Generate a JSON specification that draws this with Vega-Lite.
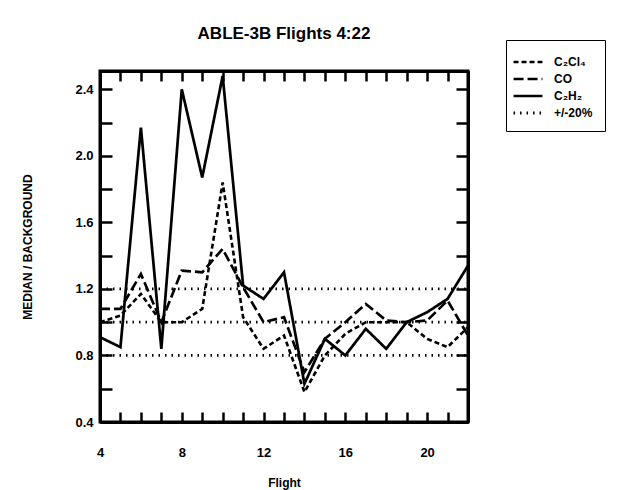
{
  "$schema": "https://vega.github.io/schema/vega-lite/v6.json",
  "width": 368,
  "height": 351,
  "autosize": {"type": "none"},
  "padding": {"left": 100, "top": 71, "right": 153, "bottom": 68},
  "background": "white",
  "title": {"text": "ABLE-3B Flights 4:22", "fontSize": 17, "font": "Liberation Sans", "fontWeight": "bold", "color": "black", "anchor": "middle", "offset": -3},
  "config": {
    "view": {"stroke": "black", "strokeWidth": 3},
    "axis": {"labelFont": "Liberation Sans", "labelFontWeight": "bold", "labelFontSize": 13, "labelColor": "black", "titleFont": "Liberation Sans", "titleFontWeight": "bold", "titleFontSize": 12, "titleColor": "black", "domainColor": "black", "domainWidth": 3, "tickColor": "black", "tickWidth": 2.5, "grid": false},
    "legend": {"labelFont": "Liberation Sans", "labelFontWeight": "bold", "labelFontSize": 12, "labelColor": "black"}
  },
  "data": {"values": [
    {"flight": 4, "value": 1.00, "series": "C₂Cl₄"},
    {"flight": 5, "value": 1.04, "series": "C₂Cl₄"},
    {"flight": 6, "value": 1.17, "series": "C₂Cl₄"},
    {"flight": 7, "value": 1.00, "series": "C₂Cl₄"},
    {"flight": 8, "value": 1.00, "series": "C₂Cl₄"},
    {"flight": 9, "value": 1.08, "series": "C₂Cl₄"},
    {"flight": 10, "value": 1.84, "series": "C₂Cl₄"},
    {"flight": 11, "value": 1.03, "series": "C₂Cl₄"},
    {"flight": 12, "value": 0.84, "series": "C₂Cl₄"},
    {"flight": 13, "value": 0.92, "series": "C₂Cl₄"},
    {"flight": 14, "value": 0.58, "series": "C₂Cl₄"},
    {"flight": 15, "value": 0.80, "series": "C₂Cl₄"},
    {"flight": 16, "value": 0.93, "series": "C₂Cl₄"},
    {"flight": 17, "value": 1.00, "series": "C₂Cl₄"},
    {"flight": 18, "value": 1.00, "series": "C₂Cl₄"},
    {"flight": 19, "value": 1.00, "series": "C₂Cl₄"},
    {"flight": 20, "value": 0.90, "series": "C₂Cl₄"},
    {"flight": 21, "value": 0.85, "series": "C₂Cl₄"},
    {"flight": 22, "value": 0.97, "series": "C₂Cl₄"},
    {"flight": 4, "value": 1.08, "series": "CO"},
    {"flight": 5, "value": 1.08, "series": "CO"},
    {"flight": 6, "value": 1.29, "series": "CO"},
    {"flight": 7, "value": 1.00, "series": "CO"},
    {"flight": 8, "value": 1.31, "series": "CO"},
    {"flight": 9, "value": 1.30, "series": "CO"},
    {"flight": 10, "value": 1.44, "series": "CO"},
    {"flight": 11, "value": 1.21, "series": "CO"},
    {"flight": 12, "value": 1.00, "series": "CO"},
    {"flight": 13, "value": 1.03, "series": "CO"},
    {"flight": 14, "value": 0.70, "series": "CO"},
    {"flight": 15, "value": 0.90, "series": "CO"},
    {"flight": 16, "value": 1.00, "series": "CO"},
    {"flight": 17, "value": 1.11, "series": "CO"},
    {"flight": 18, "value": 1.01, "series": "CO"},
    {"flight": 19, "value": 1.00, "series": "CO"},
    {"flight": 20, "value": 1.01, "series": "CO"},
    {"flight": 21, "value": 1.13, "series": "CO"},
    {"flight": 22, "value": 0.92, "series": "CO"},
    {"flight": 4, "value": 0.91, "series": "C₂H₂"},
    {"flight": 5, "value": 0.85, "series": "C₂H₂"},
    {"flight": 6, "value": 2.17, "series": "C₂H₂"},
    {"flight": 7, "value": 0.84, "series": "C₂H₂"},
    {"flight": 8, "value": 2.40, "series": "C₂H₂"},
    {"flight": 9, "value": 1.87, "series": "C₂H₂"},
    {"flight": 10, "value": 2.48, "series": "C₂H₂"},
    {"flight": 11, "value": 1.22, "series": "C₂H₂"},
    {"flight": 12, "value": 1.14, "series": "C₂H₂"},
    {"flight": 13, "value": 1.30, "series": "C₂H₂"},
    {"flight": 14, "value": 0.63, "series": "C₂H₂"},
    {"flight": 15, "value": 0.90, "series": "C₂H₂"},
    {"flight": 16, "value": 0.80, "series": "C₂H₂"},
    {"flight": 17, "value": 0.96, "series": "C₂H₂"},
    {"flight": 18, "value": 0.84, "series": "C₂H₂"},
    {"flight": 19, "value": 1.00, "series": "C₂H₂"},
    {"flight": 20, "value": 1.06, "series": "C₂H₂"},
    {"flight": 21, "value": 1.14, "series": "C₂H₂"},
    {"flight": 22, "value": 1.34, "series": "C₂H₂"},
    {"flight": 4, "value": 0.8, "series": "+/-20%", "level": "low"},
    {"flight": 22, "value": 0.8, "series": "+/-20%", "level": "low"},
    {"flight": 4, "value": 1.0, "series": "+/-20%", "level": "mid"},
    {"flight": 22, "value": 1.0, "series": "+/-20%", "level": "mid"},
    {"flight": 4, "value": 1.2, "series": "+/-20%", "level": "high"},
    {"flight": 22, "value": 1.2, "series": "+/-20%", "level": "high"}
  ]},
  "layer": [
    {
      "mark": {"type": "line", "color": "black", "clip": true},
      "encoding": {
        "x": {"field": "flight", "type": "quantitative", "scale": {"domain": [4, 22], "nice": false, "zero": false},
              "axis": {"orient": "bottom", "title": "Flight", "values": [4,5,6,7,8,9,10,11,12,13,14,15,16,17,18,19,20,21,22],
                       "labelExpr": "datum.value % 4 == 0 ? datum.label : ''", "tickSize": -10, "labelPadding": 34, "titlePadding": 18, "labelFlush": false}},
        "y": {"field": "value", "type": "quantitative", "scale": {"domain": [0.4, 2.51], "nice": false, "zero": false},
              "axis": {"orient": "left", "title": "MEDIAN / BACKGROUND", "values": [0.4,0.6,0.8,1.0,1.2,1.4,1.6,1.8,2.0,2.2,2.4],
                       "labelExpr": "indexof(['0.4','0.8','1.2','1.6','2.0','2.4'], format(datum.value, '.1f')) >= 0 ? format(datum.value, '.1f') : ''",
                       "tickSize": -12, "labelPadding": 19, "titlePadding": 40, "labelFlush": false}},
        "strokeDash": {"field": "series", "type": "nominal",
                       "scale": {"domain": ["C₂Cl₄", "CO", "C₂H₂", "+/-20%"], "range": [[5, 3], [10, 4], [1, 0], [1.5, 5]]},
                       "legend": {"title": null, "orient": "none", "legendX": 406, "legendY": -31, "strokeColor": "black", "padding": 12,
                                  "symbolType": "M-1.7,0L1.7,0", "symbolSize": 289, "symbolStrokeColor": "black", "rowPadding": 1, "labelOffset": 16}},
        "strokeWidth": {"field": "series", "type": "nominal",
                        "scale": {"domain": ["C₂Cl₄", "CO", "C₂H₂", "+/-20%"], "range": [2.6, 2.8, 2.8, 1.6]}},
        "detail": {"field": "level", "type": "nominal"}
      }
    },
    {
      "mark": {"type": "line", "opacity": 0},
      "encoding": {
        "x": {"field": "flight", "type": "quantitative",
              "axis": {"orient": "top", "title": null, "values": [4,5,6,7,8,9,10,11,12,13,14,15,16,17,18,19,20,21,22], "labels": false, "tickSize": -10}},
        "y": {"field": "value", "type": "quantitative",
              "axis": {"orient": "right", "title": null, "values": [0.4,0.6,0.8,1.0,1.2,1.4,1.6,1.8,2.0,2.2,2.4], "labels": false, "tickSize": -12}}
      }
    }
  ],
  "resolve": {"axis": {"x": "independent", "y": "independent"}}
}
